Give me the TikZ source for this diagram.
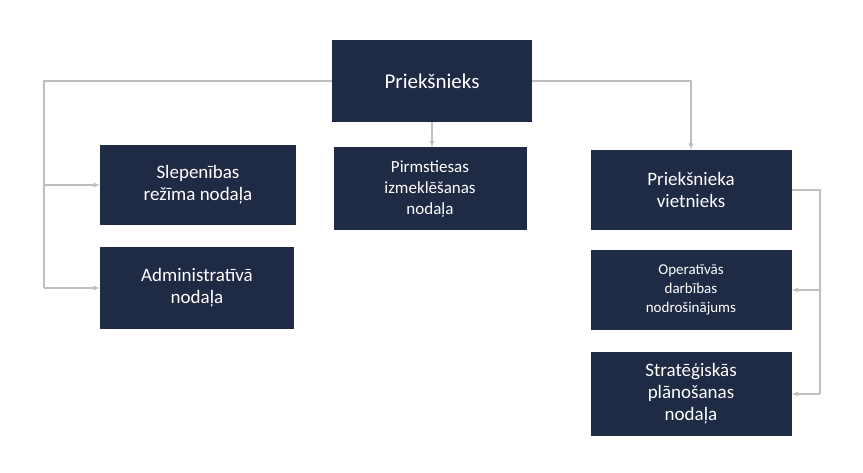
\documentclass[tikz,border=0pt]{standalone}
\usepackage{fontspec}
\setmainfont{Carlito}
\usetikzlibrary{positioning}
\definecolor{navy}{HTML}{1F2A44}
\definecolor{linegray}{HTML}{BFBFBF}
\tikzset{
	unit/.style={fill=navy,text=white,align=center,inner sep=0pt,font=\fontsize{19}{22}\selectfont},
	link/.style={draw=linegray,line width=1.2pt,-latex},
}
\begin{document}
\begin{tikzpicture}[x=1pt,y=-1pt]
	\useasboundingbox (0,0) rectangle (863,473);
	\node[unit,minimum width=200,minimum height=82,font=\fontsize{21}{24}\selectfont] (boss) at (432,81) {Priekšnieks};
	\node[unit,minimum width=196,minimum height=80] (secret) at (198,185) {Slepenības\\režīma nodaļa};
	\node[unit,minimum width=194,minimum height=82] (admin) at (197,288) {Administratīvā\\nodaļa};
	\node[unit,minimum width=193,minimum height=83,font=\fontsize{17}{21}\selectfont] (pretrial) at (430,189) {Pirmstiesas\\izmeklēšanas\\nodaļa};
	\node[unit,minimum width=201,minimum height=80] (deputy) at (691,190) {Priekšnieka\\vietnieks};
	\node[unit,minimum width=201,minimum height=80,font=\fontsize{15}{19}\selectfont] (oper) at (691,290) {Operatīvās\\darbības\\nodrošinājums};
	\node[unit,minimum width=201,minimum height=83] (strat) at (691,394) {Stratēģiskās\\plānošanas\\nodaļa};
	% connectors
	\coordinate (lefttop) at (44,81);
	\coordinate (righttop) at (820,190);
	\draw[link,-] (boss.west) -- (lefttop) -- (lefttop |- admin.west);
	\draw[link] (lefttop |- secret.west) -- (secret.west);
	\draw[link] (lefttop |- admin.west) -- (admin.west);
	\draw[link] (boss.south) -- (pretrial.north -| boss.south);
	\draw[link] (boss.east) -| (deputy.north);
	\draw[link,-] (deputy.east) -- (righttop) -- (righttop |- strat.east);
	\draw[link] (righttop |- oper.east) -- (oper.east);
	\draw[link] (righttop |- strat.east) -- (strat.east);
\end{tikzpicture}
\end{document}
